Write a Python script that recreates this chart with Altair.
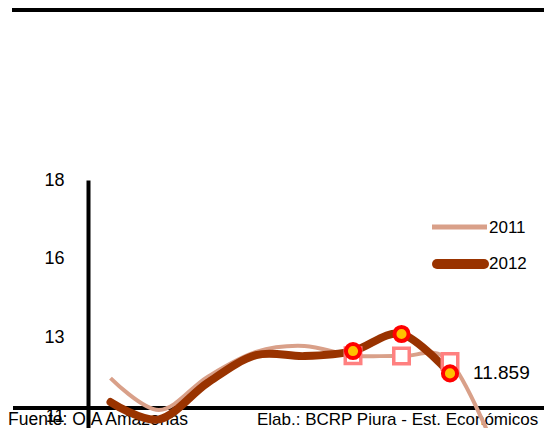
import altair as alt
import pandas as pd

# ---- data ----
months = ["Ene", "Feb", "Mar", "Abr", "May", "Jun", "Jul", "Ago", "Set"]
month_idx = [1, 2, 3, 4, 5, 6, 7, 8, 9]
v2011 = [11.71, 10.70, 11.75, 12.54, 12.73, 12.42, 12.41, 12.24, 9.20]
v2012 = [10.95, 10.40, 11.56, 12.44, 12.41, 12.57, 13.11, 11.859]
marker_months = [6, 7, 8]
last_label = ["11.859"]
y_tick_values = [10.5, 13.0, 15.5, 18.0]
series_names = ["2011", "2012"]
source_text = "Fuente: OIA Amazonas"
credit_text = "Elab.: BCRP Piura - Est. Económicos"

FONT = "Liberation Sans"
THIN = "#D9A089"
THICK = "#993300"

df11 = pd.DataFrame({"i": month_idx, "mes": months, "v": v2011})
df12 = pd.DataFrame({"i": month_idx[:len(v2012)], "mes": months[:len(v2012)], "v": v2012})
mk11 = df11[df11["i"].isin(marker_months)]
mk12 = df12[df12["i"].isin(marker_months)]
lab12 = df12.tail(1).assign(label=last_label)

# plot area: 456 x 248 px, so the whole page fits the window without scrolling
xs = alt.Scale(domain=[0.536, 9.938])
ys = alt.Scale(domain=[10.127, 18.0])
X = alt.X("i:Q", scale=xs, axis=None)
Y = alt.Y(
    "v:Q",
    scale=ys,
    axis=alt.Axis(
        values=y_tick_values,
        labelExpr="format(round(datum.value), 'd')",
        ticks=False,
        grid=False,
        domainColor="black",
        domainWidth=4,
        labelFontSize=18,
        labelPadding=24,
        labelFont=FONT,
        labelColor="black",
        title=None,
    ),
)

one = alt.Data(values=[{"a": 1}])

top_rule = alt.Chart(one).mark_rule(color="black", strokeWidth=4, clip=False).encode(
    x=alt.value(-76), x2=alt.value(456), y=alt.value(-170)
)
bottom_rule = alt.Chart(one).mark_rule(color="black", strokeWidth=4, clip=False).encode(
    x=alt.value(-75), x2=alt.value(456), y=alt.value(228)
)
src = alt.Chart(one).mark_text(
    text=source_text, font=FONT, fontSize=17.5, align="left", baseline="alphabetic", color="black", clip=False
).encode(x=alt.value(-80), y=alt.value(244.5))
cred = alt.Chart(one).mark_text(
    text=credit_text, font=FONT, fontSize=17, align="left", baseline="alphabetic", color="black", clip=False
).encode(x=alt.value(169), y=alt.value(244.5))

line11 = alt.Chart(df11).mark_line(
    interpolate="cardinal", color=THIN, strokeWidth=4, clip=False
).encode(x=X, y=Y)
line12 = alt.Chart(df12).mark_line(
    interpolate="cardinal", color=THICK, strokeWidth=8, strokeCap="round", clip=False
).encode(x=X, y=Y)

sq11 = alt.Chart(mk11).mark_point(
    shape="square", size=240, filled=True, fill="white", stroke="#FF8080", strokeWidth=3.5, opacity=1, clip=False
).encode(x=X, y=Y)
ci12 = alt.Chart(mk12).mark_point(
    shape="circle", size=200, filled=True, fill="#FFC000", stroke="#FF0000", strokeWidth=4, opacity=1, clip=False
).encode(x=X, y=Y)

val_label = alt.Chart(lab12).mark_text(
    font=FONT, fontSize=19, align="left", baseline="middle", dx=23, color="black", clip=False
).encode(x=X, y=Y, text="label:N")

leg11 = alt.Chart(one).mark_rule(color=THIN, strokeWidth=5).encode(
    x=alt.value(344), x2=alt.value(399), y=alt.value(47)
)
leg12 = alt.Chart(one).mark_rule(color=THICK, strokeWidth=10, strokeCap="round").encode(
    x=alt.value(349), x2=alt.value(396), y=alt.value(84)
)
leg11t = alt.Chart(one).mark_text(
    text=series_names[0], font=FONT, fontSize=17, align="left", baseline="middle", color="black"
).encode(x=alt.value(401), y=alt.value(48))
leg12t = alt.Chart(one).mark_text(
    text=series_names[1], font=FONT, fontSize=17, align="left", baseline="middle", color="black"
).encode(x=alt.value(401), y=alt.value(84))

chart = alt.layer(
    top_rule, bottom_rule, src, cred, line11, line12, sq11, ci12, val_label,
    leg11, leg12, leg11t, leg12t,
).properties(
    width=456,
    height=248,
    autosize=alt.AutoSizeParams(type="none"),
    padding={"left": 80, "top": 172, "right": 0, "bottom": 0},
    background="white",
).configure_view(stroke=None)

chart.save("out.html", embed_options={"renderer": "svg", "actions": False})
